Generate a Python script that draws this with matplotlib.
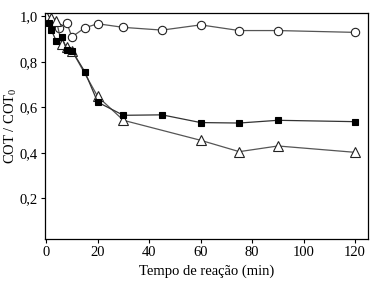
import matplotlib
matplotlib.use('Agg')
import matplotlib.pyplot as plt
from matplotlib.ticker import FuncFormatter

plt.rcParams['font.family'] = ['Liberation Serif', 'DejaVu Serif']
plt.rcParams['mathtext.fontset'] = 'custom'
plt.rcParams['mathtext.rm'] = 'Liberation Serif'
plt.rcParams['mathtext.it'] = 'Liberation Serif:italic'

# open circles
t_circ = [1, 3, 5, 8, 10, 15, 20, 30, 45, 60, 75, 90, 120]
cot_circ = [0.98, 0.97, 0.95, 0.972, 0.91, 0.95, 0.968, 0.952, 0.94, 0.963, 0.938, 0.938, 0.93]

# filled squares
t_sq = [1, 2, 4, 6, 8, 10, 15, 20, 30, 45, 60, 75, 90, 120]
cot_sq = [0.97, 0.94, 0.89, 0.91, 0.853, 0.85, 0.757, 0.623, 0.565, 0.567, 0.533, 0.531, 0.543, 0.537]

# open triangles
t_tri = [0, 2, 4, 6, 8, 10, 20, 30, 60, 75, 90, 120]
cot_tri = [1.0, 0.995, 0.98, 0.88, 0.865, 0.85, 0.648, 0.543, 0.455, 0.405, 0.43, 0.402]

fig = plt.figure(figsize=(3.74, 2.84), dpi=100)
ax = fig.add_axes([0.120, 0.158, 0.864, 0.796])

ax.plot(t_circ, cot_circ, color='#555555', lw=0.9, marker='o', ms=6,
        mfc='white', mec='#222222', mew=0.8)
ax.plot(t_tri, cot_tri, color='#555555', lw=0.9, marker='^', ms=6.5,
        mfc='white', mec='#222222', mew=0.8)
ax.plot(t_sq, cot_sq, color='#333333', lw=0.9, marker='s', ms=5,
        mfc='black', mec='black', mew=0.8)

ax.set_xlim(-0.5, 125)
ax.set_ylim(0.02, 1.015)
ax.set_xticks([0, 20, 40, 60, 80, 100, 120])
ax.set_yticks([0.2, 0.4, 0.6, 0.8, 1.0])
ax.yaxis.set_major_formatter(FuncFormatter(lambda v, p: f'{v:.1f}'.replace('.', ',')))
ax.tick_params(direction='out', length=3, width=0.8, labelsize=10.5, pad=2)
for s in ax.spines.values():
    s.set_linewidth(0.9)

ax.set_xlabel('Tempo de reação (min)', fontsize=10.5, labelpad=4)
ax.set_ylabel('COT / COT$_0$', fontsize=10.5)
ax.yaxis.set_label_coords(-0.08, 0.5)

fig.savefig('out.png', dpi=100)
